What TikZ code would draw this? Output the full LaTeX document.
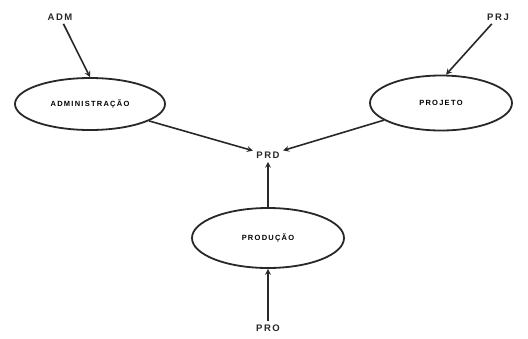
\documentclass[tikz,border=0pt]{standalone}
\usepackage{fontspec}
\setmainfont{Liberation Sans}
\usepackage{tikz}
\usetikzlibrary{arrows, positioning, shapes.geometric}
\definecolor{tinta}{RGB}{40,40,40}
\tikzset{>=stealth}
\tikzset{processo/.style={ellipse, draw=tinta, line width=1.8pt, minimum width=#1, font=\fontsize{7.5}{8}\selectfont\bfseries},
  rotulo/.style={text=tinta, font=\fontsize{9.5}{10}\selectfont\bfseries},
  fluxo/.style={->, draw=tinta, line width=1.6pt}}

\begin{document}
\begin{tikzpicture}[x=1pt,y=-1pt]
        \useasboundingbox (0,0) rectangle (528,338);
        % processos
        \node[processo=150pt, minimum height=52pt] (adm) at (90,104) {A\,D\,M\,I\,N\,I\,S\,T\,R\,A\,Ç\,Ã\,O};
        \node[processo=142pt, minimum height=55pt] (prj) at (441,103) {P\,R\,O\,J\,E\,T\,O};
        \node[processo=152pt, minimum height=60pt] (pro) at (268,238) {P\,R\,O\,D\,U\,Ç\,Ã\,O};
        % entradas e saida
        \node[rotulo] (admin) at (60,17) {A\,D\,M};
        \node[rotulo] (prjin) at (498,17) {P\,R\,J};
        \node[rotulo] (proin) at (268,328) {P\,R\,O};
        \node[rotulo] (prd) at (268,155) {P\,R\,D};
        \draw[fluxo] (admin) -- (adm.north);
        \draw[fluxo] (prjin) -- (prj.80);
        \draw[fluxo] (proin) -- (pro);
        \draw[fluxo] (adm) -- (prd);
        \draw[fluxo] (prj) -- (prd);
        \draw[fluxo] (pro) -- (prd);
      \end{tikzpicture}
\end{document}
